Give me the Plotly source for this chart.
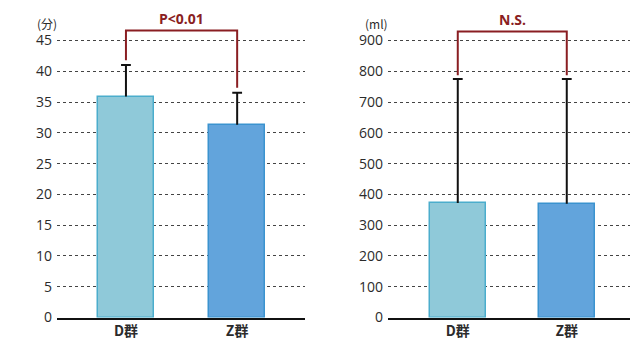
import plotly.graph_objects as go

categories = ["D群", "Z群"]

# Left chart: time (分)
time_mean = [35.9, 31.3]
time_sd = [5.1, 5.2]
time_ticks = [0, 5, 10, 15, 20, 25, 30, 35, 40, 45]
time_label = "P<0.01"
time_unit = "(分)"

# Right chart: volume (ml)
vol_mean = [372, 370]
vol_sd = [403, 405]
vol_ticks = [0, 100, 200, 300, 400, 500, 600, 700, 800, 900]
vol_label = "N.S."
vol_unit = "(ml)"

bar_fill = ["#8fc9d9", "#62a4dc"]
bar_edge = ["#4badcc", "#3b93cf"]
bracket_color = "#8a1e22"
text_color = "#2b2b2b"
font_fam = "Noto Sans CJK JP, Noto Sans, sans-serif"

fig = go.Figure()

panels = [
    dict(mean=time_mean, sd=time_sd, ticks=time_ticks, label=time_label, unit=time_unit,
         xa="x", ya="y", xdom=[57/636, 305/636], xr=[-0.62, 1.61], yr=[0, 48],
         pad=0.8, top=46.6, width=0.505),
    dict(mean=vol_mean, sd=vol_sd, ticks=vol_ticks, label=vol_label, unit=vol_unit,
         xa="x2", ya="y2", xdom=[388/636, 630/636], xr=[-0.64, 1.58], yr=[0, 960],
         pad=12, top=929, width=0.51),
]

ydom = [21/347, 0.935]
layout = {}
positions = list(range(len(categories)))
for i, p in enumerate(panels):
    fig.add_trace(go.Bar(
        x=positions, y=p["mean"], xaxis=p["xa"], yaxis=p["ya"],
        width=p["width"],
        marker=dict(color=bar_fill, line=dict(color=bar_edge, width=1.5)),
        showlegend=False, hoverinfo="skip",
    ))
    # upper-only error bars (stem + cap)
    ex, ey = [], []
    for xpos, m, s in zip(positions, p["mean"], p["sd"]):
        ex += [xpos, xpos, None]
        ey += [m, m + s, None]
    fig.add_trace(go.Scatter(
        x=ex, y=ey, mode="lines", xaxis=p["xa"], yaxis=p["ya"],
        line=dict(color="#111111", width=2), showlegend=False, hoverinfo="skip",
    ))
    fig.add_trace(go.Scatter(
        x=positions, y=[m + s for m, s in zip(p["mean"], p["sd"])], mode="markers",
        xaxis=p["xa"], yaxis=p["ya"],
        marker=dict(symbol="line-ew-open", size=7, color="#111111",
                    line=dict(color="#111111", width=2)),
        showlegend=False, hoverinfo="skip",
    ))
    sfx = "" if i == 0 else "2"
    layout["xaxis" + sfx] = dict(
        domain=p["xdom"], range=p["xr"], anchor=p["ya"],
        showline=True, linecolor="#111111", linewidth=2,
        showgrid=False, zeroline=False, ticks="",
        tickfont=dict(size=14, color=text_color, family=font_fam),
        ticklabelstandoff=0,
        tickmode="array", tickvals=positions, ticktext=["<b>%s</b>" % c for c in categories],
        type="linear",
    )
    layout["yaxis" + sfx] = dict(
        domain=ydom, range=p["yr"], anchor=p["xa"],
        tickmode="array", tickvals=p["ticks"],
        showgrid=True, gridcolor="#444444", gridwidth=1, griddash="dot",
        zeroline=False, showline=False, ticks="",
        tickfont=dict(size=14, color=text_color, family="Open Sans, sans-serif"),
        ticklabelstandoff=4,
    )
    # bracket
    tops = [m + s + p["pad"] for m, s in zip(p["mean"], p["sd"])]
    path = "M 0 %f L 0 %f L 1 %f L 1 %f" % (tops[0], p["top"], p["top"], tops[1])
    fig.add_shape(type="path", path=path, xref=p["xa"], yref=p["ya"],
                  line=dict(color=bracket_color, width=2))
    fig.add_annotation(x=0.5, y=p["top"], xref=p["xa"], yref=p["ya"],
                       text="<b>%s</b>" % p["label"], showarrow=False,
                       yanchor="bottom", yshift=1,
                       font=dict(size=14, color=bracket_color, family="Open Sans, sans-serif"))
    fig.add_annotation(x=p["xdom"][0], y=(347 - 24) / 347, xref="paper", yref="paper",
                       text=p["unit"], showarrow=False, xanchor="right", yanchor="middle",
                       xshift=2,
                       font=dict(size=12, color=text_color, family=font_fam))

fig.update_layout(
    **layout,
    width=636, height=347,
    margin=dict(l=0, r=0, t=0, b=0),
    plot_bgcolor="white", paper_bgcolor="white",
    bargap=0, hovermode=False,
)

fig.write_html("out.html", config={"displayModeBar": False},
               post_script="document.body.style.margin='0';document.body.style.overflow='hidden';")
